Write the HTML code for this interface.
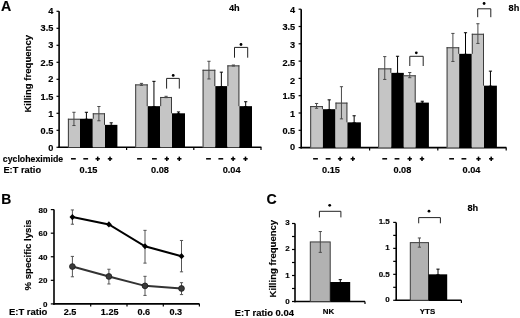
<!DOCTYPE html>
<html><head><meta charset="utf-8"><style>
html,body{margin:0;padding:0;background:#fff;width:520px;height:318px;overflow:hidden}
</style></head><body>
<svg width="520" height="318" viewBox="0 0 520 318" style="position:absolute;left:0;top:0;filter:grayscale(1) blur(0.35px)">
<g style="font-family:'Liberation Sans',sans-serif;font-weight:bold">
<line x1="59.1" y1="11.3" x2="59.1" y2="148.1" stroke="#000" stroke-width="1.6"/>
<line x1="58.3" y1="147.3" x2="261.4" y2="147.3" stroke="#000" stroke-width="1.6"/>
<line x1="56.5" y1="147.3" x2="59.1" y2="147.3" stroke="#000" stroke-width="1.2"/>
<text x="53.4" y="150.55" font-size="9.2" text-anchor="end" fill="#000" stroke="#000" stroke-width="0.15" >0</text>
<line x1="56.5" y1="130.3" x2="59.1" y2="130.3" stroke="#000" stroke-width="1.2"/>
<text x="53.4" y="134.45" font-size="9.2" text-anchor="end" fill="#000" stroke="#000" stroke-width="0.15" >0.5</text>
<line x1="56.5" y1="113.3" x2="59.1" y2="113.3" stroke="#000" stroke-width="1.2"/>
<text x="53.4" y="117.35" font-size="9.2" text-anchor="end" fill="#000" stroke="#000" stroke-width="0.15" >1</text>
<line x1="56.5" y1="96.3" x2="59.1" y2="96.3" stroke="#000" stroke-width="1.2"/>
<text x="53.4" y="100.35" font-size="9.2" text-anchor="end" fill="#000" stroke="#000" stroke-width="0.15" >1.5</text>
<line x1="56.5" y1="79.3" x2="59.1" y2="79.3" stroke="#000" stroke-width="1.2"/>
<text x="53.4" y="81.7" font-size="9.2" text-anchor="end" fill="#000" stroke="#000" stroke-width="0.15" >2</text>
<line x1="56.5" y1="62.3" x2="59.1" y2="62.3" stroke="#000" stroke-width="1.2"/>
<text x="53.4" y="65.7" font-size="9.2" text-anchor="end" fill="#000" stroke="#000" stroke-width="0.15" >2.5</text>
<line x1="56.5" y1="45.3" x2="59.1" y2="45.3" stroke="#000" stroke-width="1.2"/>
<text x="53.4" y="48.2" font-size="9.2" text-anchor="end" fill="#000" stroke="#000" stroke-width="0.15" >3</text>
<line x1="56.5" y1="28.3" x2="59.1" y2="28.3" stroke="#000" stroke-width="1.2"/>
<text x="53.4" y="30.95" font-size="9.2" text-anchor="end" fill="#000" stroke="#000" stroke-width="0.15" >3.5</text>
<line x1="56.5" y1="11.3" x2="59.1" y2="11.3" stroke="#000" stroke-width="1.2"/>
<text x="53.4" y="13.65" font-size="9.2" text-anchor="end" fill="#000" stroke="#000" stroke-width="0.15" >4</text>
<line x1="126.6" y1="147.3" x2="126.6" y2="150.1" stroke="#000" stroke-width="1.2"/>
<line x1="193.8" y1="147.3" x2="193.8" y2="150.1" stroke="#000" stroke-width="1.2"/>
<line x1="261.0" y1="147.3" x2="261.0" y2="150.1" stroke="#000" stroke-width="1.2"/>
<rect x="67.9" y="118.74" width="12.10" height="28.56" fill="#c5c5c5"/>
<rect x="80.0" y="118.74" width="12.80" height="28.56" fill="#000"/>
<rect x="92.8" y="113.3" width="12.20" height="34.00" fill="#c5c5c5"/>
<rect x="105.0" y="124.86" width="12.40" height="22.44" fill="#000"/>
<line x1="67.9" y1="119.24" x2="80.0" y2="119.24" stroke="#3c3c3c" stroke-width="1.0"/>
<line x1="68.4" y1="118.74" x2="68.4" y2="147.3" stroke="#3c3c3c" stroke-width="1.0"/>
<line x1="92.8" y1="113.8" x2="105.0" y2="113.8" stroke="#3c3c3c" stroke-width="1.0"/>
<line x1="93.3" y1="113.3" x2="93.3" y2="118.74" stroke="#3c3c3c" stroke-width="1.0"/>
<line x1="104.5" y1="113.3" x2="104.5" y2="124.86" stroke="#3c3c3c" stroke-width="1.0"/>
<line x1="73.95" y1="112.28" x2="73.95" y2="125.54" stroke="#4a4a4a" stroke-width="1"/>
<line x1="72.35" y1="112.28" x2="75.55" y2="112.28" stroke="#4a4a4a" stroke-width="1"/>
<line x1="72.35" y1="125.54" x2="75.55" y2="125.54" stroke="#4a4a4a" stroke-width="1"/>
<line x1="86.4" y1="112.28" x2="86.4" y2="119.24" stroke="#000" stroke-width="1"/>
<line x1="84.8" y1="112.28" x2="88.0" y2="112.28" stroke="#000" stroke-width="1"/>
<line x1="84.8" y1="119.24" x2="88.0" y2="119.24" stroke="#000" stroke-width="1"/>
<line x1="98.9" y1="106.5" x2="98.9" y2="120.78" stroke="#4a4a4a" stroke-width="1"/>
<line x1="97.3" y1="106.5" x2="100.5" y2="106.5" stroke="#4a4a4a" stroke-width="1"/>
<line x1="97.3" y1="120.78" x2="100.5" y2="120.78" stroke="#4a4a4a" stroke-width="1"/>
<line x1="111.2" y1="122.82" x2="111.2" y2="125.36" stroke="#000" stroke-width="1"/>
<line x1="109.6" y1="122.82" x2="112.8" y2="122.82" stroke="#000" stroke-width="1"/>
<line x1="109.6" y1="125.36" x2="112.8" y2="125.36" stroke="#000" stroke-width="1"/>
<rect x="135.2" y="84.4" width="12.50" height="62.90" fill="#c5c5c5"/>
<rect x="147.7" y="106.16" width="12.50" height="41.14" fill="#000"/>
<rect x="160.2" y="96.98" width="11.80" height="50.32" fill="#c5c5c5"/>
<rect x="172.0" y="113.3" width="13.00" height="34.00" fill="#000"/>
<line x1="135.2" y1="84.9" x2="147.7" y2="84.9" stroke="#3c3c3c" stroke-width="1.0"/>
<line x1="135.7" y1="84.4" x2="135.7" y2="147.3" stroke="#3c3c3c" stroke-width="1.0"/>
<line x1="147.2" y1="84.4" x2="147.2" y2="106.16" stroke="#3c3c3c" stroke-width="1.0"/>
<line x1="160.2" y1="97.48" x2="172.0" y2="97.48" stroke="#3c3c3c" stroke-width="1.0"/>
<line x1="160.7" y1="96.98" x2="160.7" y2="106.16" stroke="#3c3c3c" stroke-width="1.0"/>
<line x1="171.5" y1="96.98" x2="171.5" y2="113.3" stroke="#3c3c3c" stroke-width="1.0"/>
<line x1="141.45" y1="83.38" x2="141.45" y2="85.42" stroke="#4a4a4a" stroke-width="1"/>
<line x1="139.85" y1="83.38" x2="143.05" y2="83.38" stroke="#4a4a4a" stroke-width="1"/>
<line x1="139.85" y1="85.42" x2="143.05" y2="85.42" stroke="#4a4a4a" stroke-width="1"/>
<line x1="153.95" y1="81.34" x2="153.95" y2="106.66" stroke="#000" stroke-width="1"/>
<line x1="152.35" y1="81.34" x2="155.55" y2="81.34" stroke="#000" stroke-width="1"/>
<line x1="152.35" y1="106.66" x2="155.55" y2="106.66" stroke="#000" stroke-width="1"/>
<line x1="166.1" y1="96.3" x2="166.1" y2="97.66" stroke="#4a4a4a" stroke-width="1"/>
<line x1="164.5" y1="96.3" x2="167.7" y2="96.3" stroke="#4a4a4a" stroke-width="1"/>
<line x1="164.5" y1="97.66" x2="167.7" y2="97.66" stroke="#4a4a4a" stroke-width="1"/>
<line x1="178.5" y1="111.94" x2="178.5" y2="113.8" stroke="#000" stroke-width="1"/>
<line x1="176.9" y1="111.94" x2="180.1" y2="111.94" stroke="#000" stroke-width="1"/>
<line x1="176.9" y1="113.8" x2="180.1" y2="113.8" stroke="#000" stroke-width="1"/>
<rect x="202.6" y="69.78" width="12.70" height="77.52" fill="#c5c5c5"/>
<rect x="215.3" y="86.1" width="12.10" height="61.20" fill="#000"/>
<rect x="227.4" y="65.36" width="12.00" height="81.94" fill="#c5c5c5"/>
<rect x="239.4" y="106.16" width="12.60" height="41.14" fill="#000"/>
<line x1="202.6" y1="70.28" x2="215.3" y2="70.28" stroke="#3c3c3c" stroke-width="1.0"/>
<line x1="203.1" y1="69.78" x2="203.1" y2="147.3" stroke="#3c3c3c" stroke-width="1.0"/>
<line x1="214.8" y1="69.78" x2="214.8" y2="86.1" stroke="#3c3c3c" stroke-width="1.0"/>
<line x1="227.4" y1="65.86" x2="239.4" y2="65.86" stroke="#3c3c3c" stroke-width="1.0"/>
<line x1="227.9" y1="65.36" x2="227.9" y2="86.1" stroke="#3c3c3c" stroke-width="1.0"/>
<line x1="238.9" y1="65.36" x2="238.9" y2="106.16" stroke="#3c3c3c" stroke-width="1.0"/>
<line x1="208.95" y1="61.28" x2="208.95" y2="78.96" stroke="#4a4a4a" stroke-width="1"/>
<line x1="207.35" y1="61.28" x2="210.55" y2="61.28" stroke="#4a4a4a" stroke-width="1"/>
<line x1="207.35" y1="78.96" x2="210.55" y2="78.96" stroke="#4a4a4a" stroke-width="1"/>
<line x1="221.35" y1="72.16" x2="221.35" y2="86.6" stroke="#000" stroke-width="1"/>
<line x1="219.75" y1="72.16" x2="222.95" y2="72.16" stroke="#000" stroke-width="1"/>
<line x1="219.75" y1="86.6" x2="222.95" y2="86.6" stroke="#000" stroke-width="1"/>
<line x1="233.4" y1="65.02" x2="233.4" y2="66.04" stroke="#4a4a4a" stroke-width="1"/>
<line x1="231.8" y1="65.02" x2="235.0" y2="65.02" stroke="#4a4a4a" stroke-width="1"/>
<line x1="231.8" y1="66.04" x2="235.0" y2="66.04" stroke="#4a4a4a" stroke-width="1"/>
<line x1="245.7" y1="101.74" x2="245.7" y2="106.66" stroke="#000" stroke-width="1"/>
<line x1="244.1" y1="101.74" x2="247.3" y2="101.74" stroke="#000" stroke-width="1"/>
<line x1="244.1" y1="106.66" x2="247.3" y2="106.66" stroke="#000" stroke-width="1"/>
<path d="M166.6 88.6 V78.4 H179.3 V88.6" fill="none" stroke="#222" stroke-width="1"/>
<circle cx="173.2" cy="75.4" r="1.4" fill="#000"/>
<path d="M234.5 57.7 V47.4 H247.7 V57.7" fill="none" stroke="#222" stroke-width="1"/>
<circle cx="241.0" cy="44.5" r="1.4" fill="#000"/>
<line x1="301.2" y1="9.2" x2="301.2" y2="148.4" stroke="#000" stroke-width="1.6"/>
<line x1="300.4" y1="147.6" x2="506.4" y2="147.6" stroke="#000" stroke-width="1.6"/>
<line x1="298.6" y1="147.6" x2="301.2" y2="147.6" stroke="#000" stroke-width="1.2"/>
<text x="295.2" y="149.65" font-size="9.2" text-anchor="end" fill="#000" stroke="#000" stroke-width="0.15" >0</text>
<line x1="298.6" y1="130.3" x2="301.2" y2="130.3" stroke="#000" stroke-width="1.2"/>
<text x="295.2" y="133.55" font-size="9.2" text-anchor="end" fill="#000" stroke="#000" stroke-width="0.15" >0.5</text>
<line x1="298.6" y1="113.0" x2="301.2" y2="113.0" stroke="#000" stroke-width="1.2"/>
<text x="295.2" y="116.55" font-size="9.2" text-anchor="end" fill="#000" stroke="#000" stroke-width="0.15" >1</text>
<line x1="298.6" y1="95.7" x2="301.2" y2="95.7" stroke="#000" stroke-width="1.2"/>
<text x="295.2" y="99.45" font-size="9.2" text-anchor="end" fill="#000" stroke="#000" stroke-width="0.15" >1.5</text>
<line x1="298.6" y1="78.4" x2="301.2" y2="78.4" stroke="#000" stroke-width="1.2"/>
<text x="295.2" y="83.65" font-size="9.2" text-anchor="end" fill="#000" stroke="#000" stroke-width="0.15" >2</text>
<line x1="298.6" y1="61.1" x2="301.2" y2="61.1" stroke="#000" stroke-width="1.2"/>
<text x="295.2" y="65.7" font-size="9.2" text-anchor="end" fill="#000" stroke="#000" stroke-width="0.15" >2.5</text>
<line x1="298.6" y1="43.8" x2="301.2" y2="43.8" stroke="#000" stroke-width="1.2"/>
<text x="295.2" y="47.75" font-size="9.2" text-anchor="end" fill="#000" stroke="#000" stroke-width="0.15" >3</text>
<line x1="298.6" y1="26.5" x2="301.2" y2="26.5" stroke="#000" stroke-width="1.2"/>
<text x="295.2" y="30.2" font-size="9.2" text-anchor="end" fill="#000" stroke="#000" stroke-width="0.15" >3.5</text>
<line x1="298.6" y1="9.2" x2="301.2" y2="9.2" stroke="#000" stroke-width="1.2"/>
<text x="295.2" y="13.45" font-size="9.2" text-anchor="end" fill="#000" stroke="#000" stroke-width="0.15" >4</text>
<line x1="369.6" y1="147.6" x2="369.6" y2="150.4" stroke="#000" stroke-width="1.2"/>
<line x1="437.8" y1="147.6" x2="437.8" y2="150.4" stroke="#000" stroke-width="1.2"/>
<line x1="506.2" y1="147.6" x2="506.2" y2="150.4" stroke="#000" stroke-width="1.2"/>
<rect x="310.2" y="106.08" width="12.70" height="41.52" fill="#c5c5c5"/>
<rect x="322.9" y="109.19" width="12.60" height="38.41" fill="#000"/>
<rect x="335.5" y="102.62" width="11.90" height="44.98" fill="#c5c5c5"/>
<rect x="347.4" y="122.34" width="13.50" height="25.26" fill="#000"/>
<line x1="310.2" y1="106.58" x2="322.9" y2="106.58" stroke="#3c3c3c" stroke-width="1.0"/>
<line x1="310.7" y1="106.08" x2="310.7" y2="147.6" stroke="#3c3c3c" stroke-width="1.0"/>
<line x1="322.4" y1="106.08" x2="322.4" y2="109.19" stroke="#3c3c3c" stroke-width="1.0"/>
<line x1="335.5" y1="103.12" x2="347.4" y2="103.12" stroke="#3c3c3c" stroke-width="1.0"/>
<line x1="336.0" y1="102.62" x2="336.0" y2="109.19" stroke="#3c3c3c" stroke-width="1.0"/>
<line x1="346.9" y1="102.62" x2="346.9" y2="122.34" stroke="#3c3c3c" stroke-width="1.0"/>
<line x1="316.55" y1="103.48" x2="316.55" y2="108.29" stroke="#4a4a4a" stroke-width="1"/>
<line x1="314.95" y1="103.48" x2="318.15" y2="103.48" stroke="#4a4a4a" stroke-width="1"/>
<line x1="314.95" y1="108.29" x2="318.15" y2="108.29" stroke="#4a4a4a" stroke-width="1"/>
<line x1="329.2" y1="99.85" x2="329.2" y2="109.69" stroke="#000" stroke-width="1"/>
<line x1="327.6" y1="99.85" x2="330.8" y2="99.85" stroke="#000" stroke-width="1"/>
<line x1="327.6" y1="109.69" x2="330.8" y2="109.69" stroke="#000" stroke-width="1"/>
<line x1="341.45" y1="86.7" x2="341.45" y2="118.88" stroke="#4a4a4a" stroke-width="1"/>
<line x1="339.85" y1="86.7" x2="343.05" y2="86.7" stroke="#4a4a4a" stroke-width="1"/>
<line x1="339.85" y1="118.88" x2="343.05" y2="118.88" stroke="#4a4a4a" stroke-width="1"/>
<line x1="354.15" y1="115.77" x2="354.15" y2="122.84" stroke="#000" stroke-width="1"/>
<line x1="352.55" y1="115.77" x2="355.75" y2="115.77" stroke="#000" stroke-width="1"/>
<line x1="352.55" y1="122.84" x2="355.75" y2="122.84" stroke="#000" stroke-width="1"/>
<rect x="378.2" y="68.37" width="13.10" height="79.23" fill="#c5c5c5"/>
<rect x="391.3" y="72.86" width="12.50" height="74.74" fill="#000"/>
<rect x="403.8" y="75.29" width="11.90" height="72.31" fill="#c5c5c5"/>
<rect x="415.7" y="102.62" width="13.20" height="44.98" fill="#000"/>
<line x1="378.2" y1="68.87" x2="391.3" y2="68.87" stroke="#3c3c3c" stroke-width="1.0"/>
<line x1="378.7" y1="68.37" x2="378.7" y2="147.6" stroke="#3c3c3c" stroke-width="1.0"/>
<line x1="390.8" y1="68.37" x2="390.8" y2="72.86" stroke="#3c3c3c" stroke-width="1.0"/>
<line x1="403.8" y1="75.79" x2="415.7" y2="75.79" stroke="#3c3c3c" stroke-width="1.0"/>
<line x1="415.2" y1="75.29" x2="415.2" y2="102.62" stroke="#3c3c3c" stroke-width="1.0"/>
<line x1="384.75" y1="56.6" x2="384.75" y2="79.44" stroke="#4a4a4a" stroke-width="1"/>
<line x1="383.15" y1="56.6" x2="386.35" y2="56.6" stroke="#4a4a4a" stroke-width="1"/>
<line x1="383.15" y1="79.44" x2="386.35" y2="79.44" stroke="#4a4a4a" stroke-width="1"/>
<line x1="397.55" y1="56.26" x2="397.55" y2="73.36" stroke="#000" stroke-width="1"/>
<line x1="395.95" y1="56.26" x2="399.15" y2="56.26" stroke="#000" stroke-width="1"/>
<line x1="395.95" y1="73.36" x2="399.15" y2="73.36" stroke="#000" stroke-width="1"/>
<line x1="409.75" y1="72.52" x2="409.75" y2="77.71" stroke="#4a4a4a" stroke-width="1"/>
<line x1="408.15" y1="72.52" x2="411.35" y2="72.52" stroke="#4a4a4a" stroke-width="1"/>
<line x1="408.15" y1="77.71" x2="411.35" y2="77.71" stroke="#4a4a4a" stroke-width="1"/>
<line x1="422.3" y1="101.24" x2="422.3" y2="103.12" stroke="#000" stroke-width="1"/>
<line x1="420.7" y1="101.24" x2="423.9" y2="101.24" stroke="#000" stroke-width="1"/>
<line x1="420.7" y1="103.12" x2="423.9" y2="103.12" stroke="#000" stroke-width="1"/>
<rect x="446.6" y="47.26" width="12.60" height="100.34" fill="#c5c5c5"/>
<rect x="459.2" y="53.83" width="12.60" height="93.77" fill="#000"/>
<rect x="471.8" y="33.77" width="12.20" height="113.83" fill="#c5c5c5"/>
<rect x="484.0" y="85.67" width="12.90" height="61.93" fill="#000"/>
<line x1="446.6" y1="47.76" x2="459.2" y2="47.76" stroke="#3c3c3c" stroke-width="1.0"/>
<line x1="447.1" y1="47.26" x2="447.1" y2="147.6" stroke="#3c3c3c" stroke-width="1.0"/>
<line x1="458.7" y1="47.26" x2="458.7" y2="53.83" stroke="#3c3c3c" stroke-width="1.0"/>
<line x1="471.8" y1="34.27" x2="484.0" y2="34.27" stroke="#3c3c3c" stroke-width="1.0"/>
<line x1="472.3" y1="33.77" x2="472.3" y2="53.83" stroke="#3c3c3c" stroke-width="1.0"/>
<line x1="483.5" y1="33.77" x2="483.5" y2="85.67" stroke="#3c3c3c" stroke-width="1.0"/>
<line x1="452.9" y1="33.42" x2="452.9" y2="61.45" stroke="#4a4a4a" stroke-width="1"/>
<line x1="451.3" y1="33.42" x2="454.5" y2="33.42" stroke="#4a4a4a" stroke-width="1"/>
<line x1="451.3" y1="61.45" x2="454.5" y2="61.45" stroke="#4a4a4a" stroke-width="1"/>
<line x1="465.5" y1="32.73" x2="465.5" y2="54.33" stroke="#000" stroke-width="1"/>
<line x1="463.9" y1="32.73" x2="467.1" y2="32.73" stroke="#000" stroke-width="1"/>
<line x1="463.9" y1="54.33" x2="467.1" y2="54.33" stroke="#000" stroke-width="1"/>
<line x1="477.9" y1="23.73" x2="477.9" y2="43.45" stroke="#4a4a4a" stroke-width="1"/>
<line x1="476.3" y1="23.73" x2="479.5" y2="23.73" stroke="#4a4a4a" stroke-width="1"/>
<line x1="476.3" y1="43.45" x2="479.5" y2="43.45" stroke="#4a4a4a" stroke-width="1"/>
<line x1="490.45" y1="71.13" x2="490.45" y2="86.17" stroke="#000" stroke-width="1"/>
<line x1="488.85" y1="71.13" x2="492.05" y2="71.13" stroke="#000" stroke-width="1"/>
<line x1="488.85" y1="86.17" x2="492.05" y2="86.17" stroke="#000" stroke-width="1"/>
<path d="M409.8 66.0 V56.3 H423.2 V66.0" fill="none" stroke="#222" stroke-width="1"/>
<circle cx="416.3" cy="52.8" r="1.4" fill="#000"/>
<path d="M477.7 17.2 V8.8 H490.8 V17.2" fill="none" stroke="#222" stroke-width="1"/>
<circle cx="484.1" cy="3.5" r="1.4" fill="#000"/>
<text x="0.9" y="10.8" font-size="14.2" text-anchor="start" fill="#000" stroke="#000" stroke-width="0.15" >A</text>
<text x="229.0" y="11.1" font-size="9.2" text-anchor="start" fill="#000" stroke="#000" stroke-width="0.15" >4h</text>
<text x="508.6" y="11.1" font-size="9.2" text-anchor="start" fill="#000" stroke="#000" stroke-width="0.15" >8h</text>
<text x="0" y="0" font-size="9.57" text-anchor="middle" fill="#000" stroke="#000" stroke-width="0.15" transform="translate(30.6 73.75) rotate(-90)">Killing frequency</text>
<text x="2.8" y="162.3" font-size="8.75" text-anchor="start" fill="#000" stroke="#000" stroke-width="0.15" >cycloheximide</text>
<text x="3.4" y="173.3" font-size="9.3" text-anchor="start" fill="#000" stroke="#000" stroke-width="0.15" >E:T ratio</text>
<rect x="71.0" y="158.05" width="4.8" height="1.5" fill="#000"/>
<rect x="83.3" y="158.05" width="4.8" height="1.5" fill="#000"/>
<rect x="95.5" y="158.05" width="4.4" height="1.5" fill="#000"/>
<rect x="96.95" y="156.6" width="1.5" height="4.4" fill="#000"/>
<rect x="107.8" y="158.05" width="4.4" height="1.5" fill="#000"/>
<rect x="109.25" y="156.6" width="1.5" height="4.4" fill="#000"/>
<rect x="137.1" y="158.05" width="4.8" height="1.5" fill="#000"/>
<rect x="152.0" y="158.05" width="4.8" height="1.5" fill="#000"/>
<rect x="164.6" y="158.05" width="4.4" height="1.5" fill="#000"/>
<rect x="166.05" y="156.6" width="1.5" height="4.4" fill="#000"/>
<rect x="177.1" y="158.05" width="4.4" height="1.5" fill="#000"/>
<rect x="178.55" y="156.6" width="1.5" height="4.4" fill="#000"/>
<rect x="206.1" y="158.05" width="4.8" height="1.5" fill="#000"/>
<rect x="218.4" y="158.05" width="4.8" height="1.5" fill="#000"/>
<rect x="230.9" y="158.05" width="4.4" height="1.5" fill="#000"/>
<rect x="232.35" y="156.6" width="1.5" height="4.4" fill="#000"/>
<rect x="243.3" y="158.05" width="4.4" height="1.5" fill="#000"/>
<rect x="244.75" y="156.6" width="1.5" height="4.4" fill="#000"/>
<rect x="313.1" y="158.05" width="4.8" height="1.5" fill="#000"/>
<rect x="325.7" y="158.05" width="4.8" height="1.5" fill="#000"/>
<rect x="337.9" y="158.05" width="4.4" height="1.5" fill="#000"/>
<rect x="339.35" y="156.6" width="1.5" height="4.4" fill="#000"/>
<rect x="350.6" y="158.05" width="4.4" height="1.5" fill="#000"/>
<rect x="352.05" y="156.6" width="1.5" height="4.4" fill="#000"/>
<rect x="382.3" y="158.05" width="4.8" height="1.5" fill="#000"/>
<rect x="394.6" y="158.05" width="4.8" height="1.5" fill="#000"/>
<rect x="407.5" y="158.05" width="4.4" height="1.5" fill="#000"/>
<rect x="408.95" y="156.6" width="1.5" height="4.4" fill="#000"/>
<rect x="419.8" y="158.05" width="4.4" height="1.5" fill="#000"/>
<rect x="421.25" y="156.6" width="1.5" height="4.4" fill="#000"/>
<rect x="449.2" y="158.05" width="4.8" height="1.5" fill="#000"/>
<rect x="461.5" y="158.05" width="4.8" height="1.5" fill="#000"/>
<rect x="476.3" y="158.05" width="4.4" height="1.5" fill="#000"/>
<rect x="477.75" y="156.6" width="1.5" height="4.4" fill="#000"/>
<rect x="489.0" y="158.05" width="4.4" height="1.5" fill="#000"/>
<rect x="490.45" y="156.6" width="1.5" height="4.4" fill="#000"/>
<text x="88.55" y="173.2" font-size="9.2" text-anchor="middle" fill="#000" stroke="#000" stroke-width="0.15" >0.15</text>
<text x="160.0" y="173.2" font-size="9.2" text-anchor="middle" fill="#000" stroke="#000" stroke-width="0.15" >0.08</text>
<text x="231.65" y="173.2" font-size="9.2" text-anchor="middle" fill="#000" stroke="#000" stroke-width="0.15" >0.04</text>
<text x="331.0" y="173.2" font-size="9.2" text-anchor="middle" fill="#000" stroke="#000" stroke-width="0.15" >0.15</text>
<text x="402.35" y="173.2" font-size="9.2" text-anchor="middle" fill="#000" stroke="#000" stroke-width="0.15" >0.08</text>
<text x="471.55" y="173.2" font-size="9.2" text-anchor="middle" fill="#000" stroke="#000" stroke-width="0.15" >0.04</text>
<line x1="54.0" y1="209.6" x2="54.0" y2="304.7" stroke="#000" stroke-width="1.6"/>
<line x1="53.2" y1="303.9" x2="199.6" y2="303.9" stroke="#000" stroke-width="1.6"/>
<line x1="50.8" y1="303.9" x2="54.0" y2="303.9" stroke="#000" stroke-width="1.2"/>
<text x="47.4" y="306.8" font-size="8.0" text-anchor="end" fill="#000" stroke="#000" stroke-width="0.15" >0</text>
<line x1="50.8" y1="280.32" x2="54.0" y2="280.32" stroke="#000" stroke-width="1.2"/>
<text x="47.4" y="283.22" font-size="8.0" text-anchor="end" fill="#000" stroke="#000" stroke-width="0.15" >20</text>
<line x1="50.8" y1="256.75" x2="54.0" y2="256.75" stroke="#000" stroke-width="1.2"/>
<text x="47.4" y="259.65" font-size="8.0" text-anchor="end" fill="#000" stroke="#000" stroke-width="0.15" >40</text>
<line x1="50.8" y1="233.18" x2="54.0" y2="233.18" stroke="#000" stroke-width="1.2"/>
<text x="47.4" y="236.08" font-size="8.0" text-anchor="end" fill="#000" stroke="#000" stroke-width="0.15" >60</text>
<line x1="50.8" y1="209.6" x2="54.0" y2="209.6" stroke="#000" stroke-width="1.2"/>
<text x="47.4" y="212.5" font-size="8.0" text-anchor="end" fill="#000" stroke="#000" stroke-width="0.15" >80</text>
<line x1="90.7" y1="303.9" x2="90.7" y2="306.5" stroke="#000" stroke-width="1.2"/>
<line x1="127.0" y1="303.9" x2="127.0" y2="306.5" stroke="#000" stroke-width="1.2"/>
<line x1="163.3" y1="303.9" x2="163.3" y2="306.5" stroke="#000" stroke-width="1.2"/>
<line x1="199.4" y1="303.9" x2="199.4" y2="306.5" stroke="#000" stroke-width="1.2"/>
<line x1="72.4" y1="209.95" x2="72.4" y2="224.22" stroke="#555" stroke-width="1"/>
<line x1="70.8" y1="209.95" x2="74.0" y2="209.95" stroke="#555" stroke-width="1"/>
<line x1="70.8" y1="224.22" x2="74.0" y2="224.22" stroke="#555" stroke-width="1"/>
<line x1="145.0" y1="230.35" x2="145.0" y2="263.12" stroke="#555" stroke-width="1"/>
<line x1="143.4" y1="230.35" x2="146.6" y2="230.35" stroke="#555" stroke-width="1"/>
<line x1="143.4" y1="263.12" x2="146.6" y2="263.12" stroke="#555" stroke-width="1"/>
<line x1="181.5" y1="240.48" x2="181.5" y2="271.84" stroke="#555" stroke-width="1"/>
<line x1="179.9" y1="240.48" x2="183.1" y2="240.48" stroke="#555" stroke-width="1"/>
<line x1="179.9" y1="271.84" x2="183.1" y2="271.84" stroke="#555" stroke-width="1"/>
<line x1="72.4" y1="256.4" x2="72.4" y2="276.79" stroke="#555" stroke-width="1"/>
<line x1="70.8" y1="256.4" x2="74.0" y2="256.4" stroke="#555" stroke-width="1"/>
<line x1="70.8" y1="276.79" x2="74.0" y2="276.79" stroke="#555" stroke-width="1"/>
<line x1="108.9" y1="269.24" x2="108.9" y2="283.98" stroke="#555" stroke-width="1"/>
<line x1="107.3" y1="269.24" x2="110.5" y2="269.24" stroke="#555" stroke-width="1"/>
<line x1="107.3" y1="283.98" x2="110.5" y2="283.98" stroke="#555" stroke-width="1"/>
<line x1="145.0" y1="276.32" x2="145.0" y2="295.41" stroke="#555" stroke-width="1"/>
<line x1="143.4" y1="276.32" x2="146.6" y2="276.32" stroke="#555" stroke-width="1"/>
<line x1="143.4" y1="295.41" x2="146.6" y2="295.41" stroke="#555" stroke-width="1"/>
<line x1="181.5" y1="282.68" x2="181.5" y2="294.59" stroke="#555" stroke-width="1"/>
<line x1="179.9" y1="282.68" x2="183.1" y2="282.68" stroke="#555" stroke-width="1"/>
<line x1="179.9" y1="294.59" x2="183.1" y2="294.59" stroke="#555" stroke-width="1"/>
<polyline points="72.4,217.03 108.9,224.45 145.0,246.26 181.5,256.16" fill="none" stroke="#000" stroke-width="2"/>
<polyline points="72.4,266.53 108.9,276.44 145.0,285.87 181.5,288.46" fill="none" stroke="#333" stroke-width="2"/>
<path d="M72.4 213.93 L75.3 217.03 L72.4 220.13 L69.5 217.03 Z" fill="#000"/>
<path d="M108.9 221.35 L111.8 224.45 L108.9 227.55 L106.0 224.45 Z" fill="#000"/>
<path d="M145.0 243.16 L147.9 246.26 L145.0 249.36 L142.1 246.26 Z" fill="#000"/>
<path d="M181.5 253.06 L184.4 256.16 L181.5 259.26 L178.6 256.16 Z" fill="#000"/>
<circle cx="72.4" cy="266.53" r="2.9" fill="#3a3a3a" stroke="#1a1a1a" stroke-width="0.8"/>
<circle cx="108.9" cy="276.44" r="2.9" fill="#3a3a3a" stroke="#1a1a1a" stroke-width="0.8"/>
<circle cx="145.0" cy="285.87" r="2.9" fill="#3a3a3a" stroke="#1a1a1a" stroke-width="0.8"/>
<circle cx="181.5" cy="288.46" r="2.9" fill="#3a3a3a" stroke="#1a1a1a" stroke-width="0.8"/>
<text x="1.3" y="204.3" font-size="13.9" text-anchor="start" fill="#000" stroke="#000" stroke-width="0.15" >B</text>
<text x="0" y="0" font-size="9.6" text-anchor="middle" fill="#000" stroke="#000" stroke-width="0.15" transform="translate(30.8 255.0) rotate(-90)">% specific lysis</text>
<text x="8.9" y="315.3" font-size="9.5" text-anchor="start" fill="#000" stroke="#000" stroke-width="0.15" >E:T ratio</text>
<text x="70.0" y="315.1" font-size="9.1" text-anchor="middle" fill="#000" stroke="#000" stroke-width="0.15" >2.5</text>
<text x="109.65" y="315.1" font-size="9.1" text-anchor="middle" fill="#000" stroke="#000" stroke-width="0.15" >1.25</text>
<text x="143.85" y="315.1" font-size="9.1" text-anchor="middle" fill="#000" stroke="#000" stroke-width="0.15" >0.6</text>
<text x="175.75" y="315.1" font-size="9.1" text-anchor="middle" fill="#000" stroke="#000" stroke-width="0.15" >0.3</text>
<line x1="295.0" y1="223.5" x2="295.0" y2="302.3" stroke="#000" stroke-width="1.6"/>
<line x1="294.2" y1="301.5" x2="365.0" y2="301.5" stroke="#000" stroke-width="1.6"/>
<line x1="365.0" y1="301.5" x2="365.0" y2="304.1" stroke="#000" stroke-width="1.2"/>
<line x1="292.0" y1="301.5" x2="295.0" y2="301.5" stroke="#000" stroke-width="1.2"/>
<text x="289.7" y="304.2" font-size="8.0" text-anchor="end" fill="#000" stroke="#000" stroke-width="0.15" >0</text>
<line x1="292.0" y1="288.5" x2="295.0" y2="288.5" stroke="#000" stroke-width="1.2"/>
<line x1="292.0" y1="275.5" x2="295.0" y2="275.5" stroke="#000" stroke-width="1.2"/>
<text x="289.7" y="277.9" font-size="8.0" text-anchor="end" fill="#000" stroke="#000" stroke-width="0.15" >1</text>
<line x1="292.0" y1="262.5" x2="295.0" y2="262.5" stroke="#000" stroke-width="1.2"/>
<line x1="292.0" y1="249.5" x2="295.0" y2="249.5" stroke="#000" stroke-width="1.2"/>
<text x="289.7" y="251.3" font-size="8.0" text-anchor="end" fill="#000" stroke="#000" stroke-width="0.15" >2</text>
<line x1="292.0" y1="236.5" x2="295.0" y2="236.5" stroke="#000" stroke-width="1.2"/>
<line x1="292.0" y1="223.5" x2="295.0" y2="223.5" stroke="#000" stroke-width="1.2"/>
<text x="289.7" y="225.3" font-size="8.0" text-anchor="end" fill="#000" stroke="#000" stroke-width="0.15" >3</text>
<rect x="310.3" y="241.94" width="19.9" height="59.56" fill="#b2b2b2" stroke="#3c3c3c" stroke-width="1"/>
<rect x="330.2" y="282.0" width="20.0" height="19.5" fill="#000"/>
<line x1="320.3" y1="231.56" x2="320.3" y2="252.36" stroke="#4a4a4a" stroke-width="1"/>
<line x1="318.7" y1="231.56" x2="321.9" y2="231.56" stroke="#4a4a4a" stroke-width="1"/>
<line x1="318.7" y1="252.36" x2="321.9" y2="252.36" stroke="#4a4a4a" stroke-width="1"/>
<line x1="340.3" y1="279.66" x2="340.3" y2="282.5" stroke="#000" stroke-width="1"/>
<line x1="338.7" y1="279.66" x2="341.9" y2="279.66" stroke="#000" stroke-width="1"/>
<line x1="338.7" y1="282.5" x2="341.9" y2="282.5" stroke="#000" stroke-width="1"/>
<path d="M319.4 217.4 V211.3 H340.9 V217.4" fill="none" stroke="#222" stroke-width="1"/>
<circle cx="329.7" cy="205.3" r="1.4" fill="#000"/>
<line x1="396.2" y1="222.4" x2="396.2" y2="301.1" stroke="#000" stroke-width="1.6"/>
<line x1="395.4" y1="300.3" x2="461.4" y2="300.3" stroke="#000" stroke-width="1.6"/>
<line x1="461.4" y1="300.3" x2="461.4" y2="302.9" stroke="#000" stroke-width="1.2"/>
<line x1="393.2" y1="300.3" x2="396.2" y2="300.3" stroke="#000" stroke-width="1.2"/>
<text x="389.8" y="301.7" font-size="8.0" text-anchor="end" fill="#000" stroke="#000" stroke-width="0.15" >0</text>
<line x1="393.2" y1="287.32" x2="396.2" y2="287.32" stroke="#000" stroke-width="1.2"/>
<line x1="393.2" y1="274.33" x2="396.2" y2="274.33" stroke="#000" stroke-width="1.2"/>
<text x="389.8" y="277.3" font-size="8.0" text-anchor="end" fill="#000" stroke="#000" stroke-width="0.15" >0.5</text>
<line x1="393.2" y1="261.35" x2="396.2" y2="261.35" stroke="#000" stroke-width="1.2"/>
<line x1="393.2" y1="248.37" x2="396.2" y2="248.37" stroke="#000" stroke-width="1.2"/>
<text x="389.8" y="250.1" font-size="8.0" text-anchor="end" fill="#000" stroke="#000" stroke-width="0.15" >1</text>
<line x1="393.2" y1="235.38" x2="396.2" y2="235.38" stroke="#000" stroke-width="1.2"/>
<line x1="393.2" y1="222.4" x2="396.2" y2="222.4" stroke="#000" stroke-width="1.2"/>
<text x="389.8" y="223.5" font-size="8.0" text-anchor="end" fill="#000" stroke="#000" stroke-width="0.15" >1.5</text>
<rect x="410.3" y="242.63" width="18.2" height="57.67" fill="#b2b2b2" stroke="#3c3c3c" stroke-width="1"/>
<rect x="428.5" y="274.33" width="18.7" height="25.97" fill="#000"/>
<line x1="419.4" y1="237.98" x2="419.4" y2="247.17" stroke="#4a4a4a" stroke-width="1"/>
<line x1="417.8" y1="237.98" x2="421.0" y2="237.98" stroke="#4a4a4a" stroke-width="1"/>
<line x1="417.8" y1="247.17" x2="421.0" y2="247.17" stroke="#4a4a4a" stroke-width="1"/>
<line x1="438.0" y1="269.14" x2="438.0" y2="274.83" stroke="#000" stroke-width="1"/>
<line x1="436.4" y1="269.14" x2="439.6" y2="269.14" stroke="#000" stroke-width="1"/>
<line x1="436.4" y1="274.83" x2="439.6" y2="274.83" stroke="#000" stroke-width="1"/>
<path d="M418.7 223.3 V217.6 H440.4 V223.3" fill="none" stroke="#222" stroke-width="1"/>
<circle cx="429.0" cy="211.2" r="1.4" fill="#000"/>
<text x="266.5" y="204.2" font-size="14.2" text-anchor="start" fill="#000" stroke="#000" stroke-width="0.15" >C</text>
<text x="467.4" y="211.0" font-size="9.2" text-anchor="start" fill="#000" stroke="#000" stroke-width="0.15" >8h</text>
<text x="0" y="0" font-size="9.57" text-anchor="middle" fill="#000" stroke="#000" stroke-width="0.15" transform="translate(276.0 258.6) rotate(-90)">Killing frequency</text>
<text x="234.7" y="315.6" font-size="9.45" text-anchor="start" fill="#000" stroke="#000" stroke-width="0.15" >E:T ratio 0.04</text>
<text x="328.4" y="313.8" font-size="7.9" text-anchor="middle" fill="#000" stroke="#000" stroke-width="0.15" >NK</text>
<text x="427.5" y="313.8" font-size="7.9" text-anchor="middle" fill="#000" stroke="#000" stroke-width="0.15" >YTS</text>
</g></svg>
</body></html>
